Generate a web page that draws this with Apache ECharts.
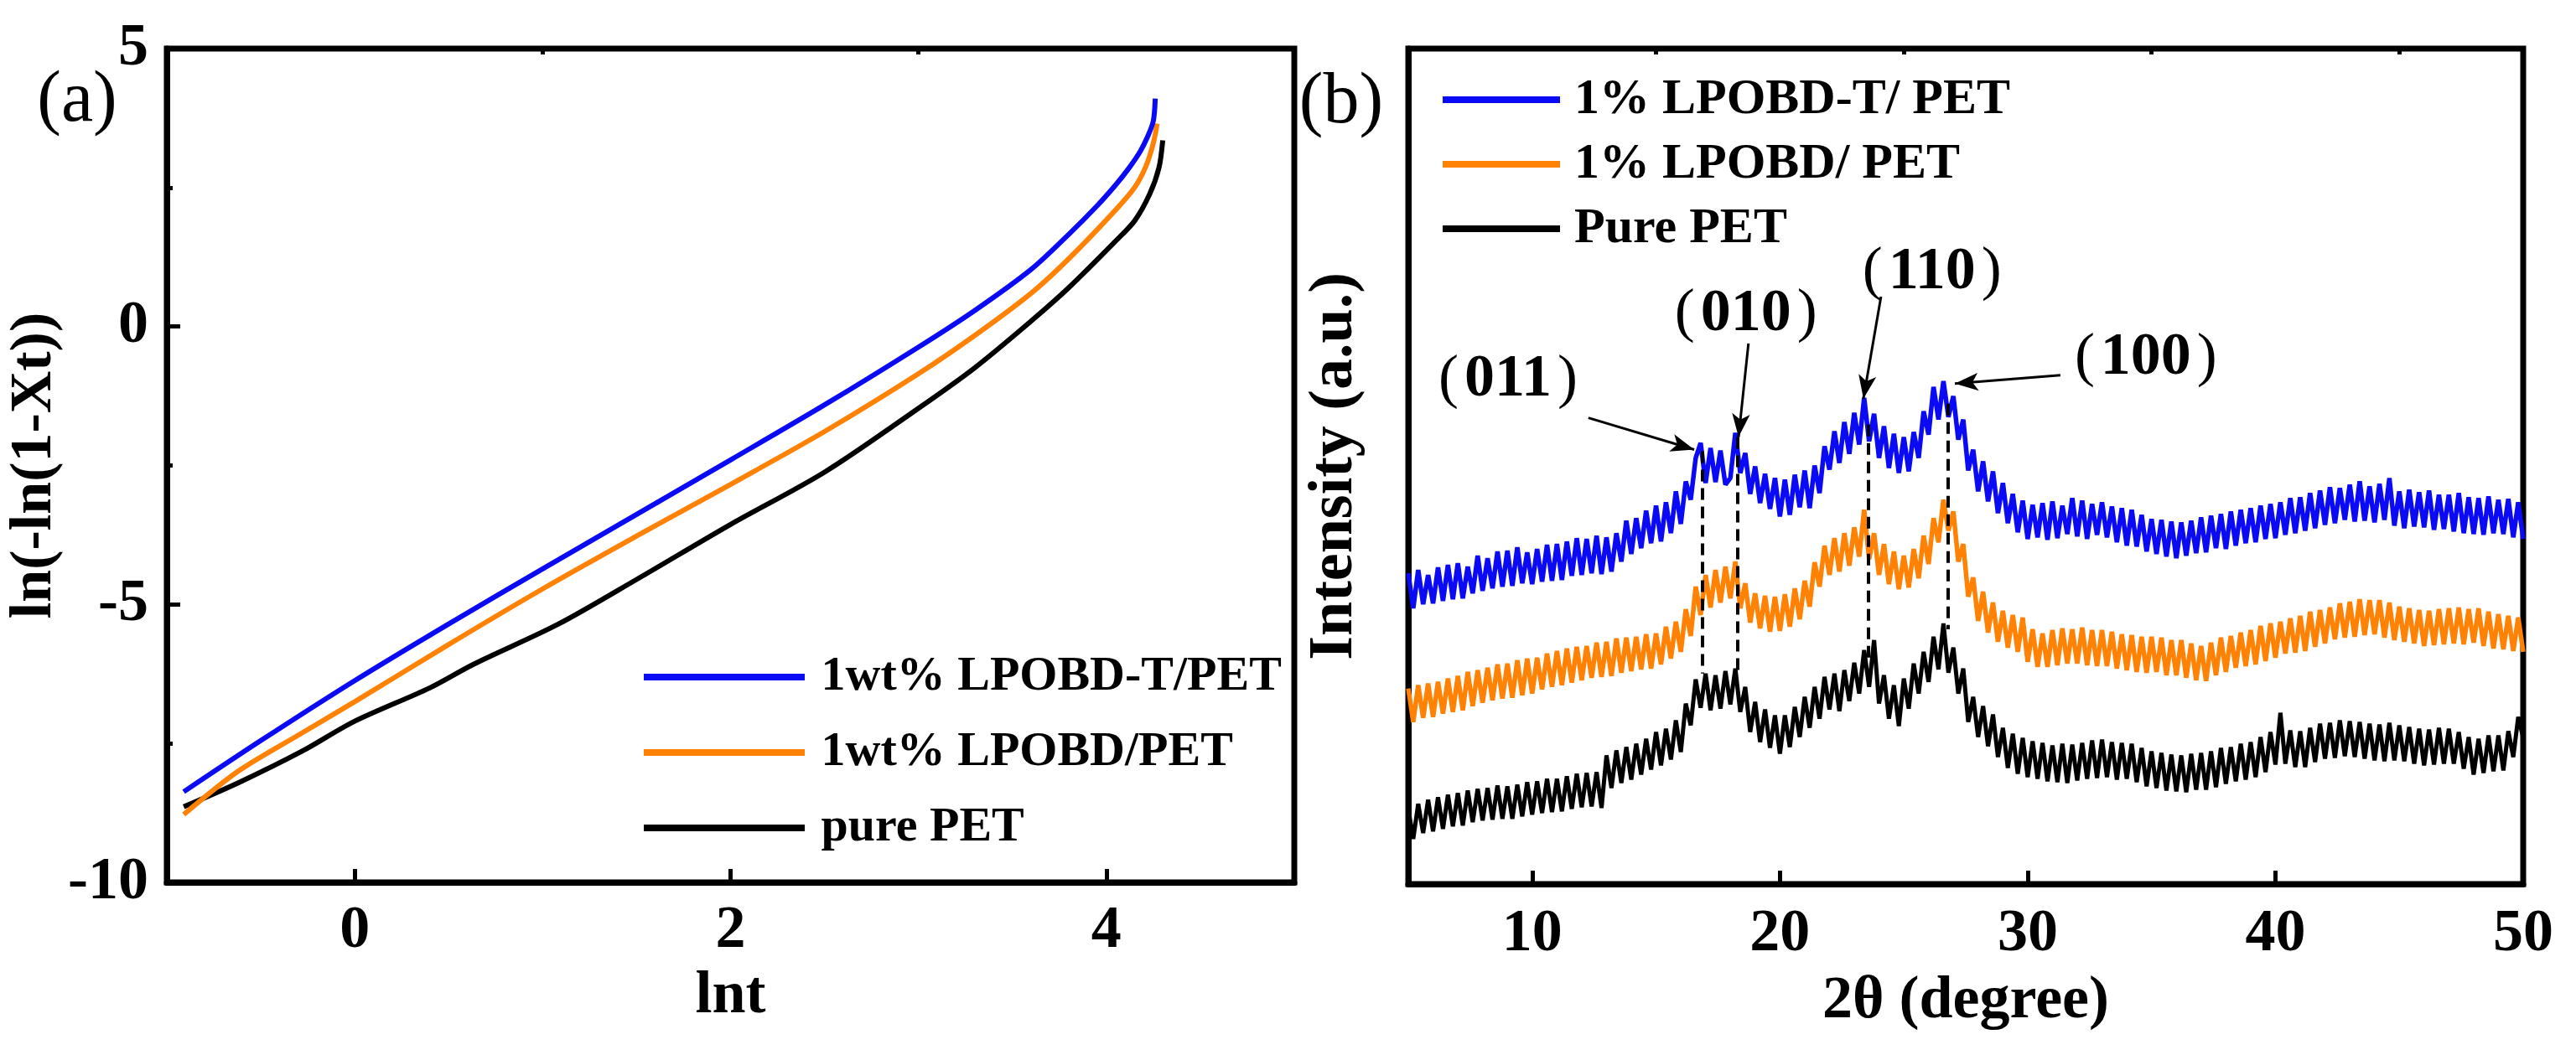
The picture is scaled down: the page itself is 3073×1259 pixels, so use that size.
<!DOCTYPE html>
<html><head><meta charset="utf-8">
<script src="https://cdn.jsdelivr.net/npm/echarts@6/dist/echarts.min.js"></script>
<style>html,body{margin:0;padding:0;background:#fff;}#c{width:3073px;height:1259px;}</style>
</head><body><div id="c"></div>
<script>
const FONT = '"Liberation Serif","Times New Roman",serif';

// ---------- panel (a): Avrami plot ----------
const aNames = ['1wt% LPOBD-T/PET', '1wt% LPOBD/PET', 'pure PET'];
const aBlueLnt = [-0.91,-0.5,0,0.5,1.0,1.5,2.0,2.5,3.0,3.3,3.6,3.8,3.95,4.05,4.12,4.18,4.22,4.25,4.26];
const aBlueY   = [-8.37,-7.45,-6.37,-5.35,-4.36,-3.38,-2.4,-1.41,-0.37,0.29,1.03,1.66,2.17,2.55,2.85,3.15,3.42,3.7,4.1];
const aOrangeLnt = [-0.91,-0.62,-0.3,0,0.5,1.0,1.5,2.0,2.5,3.0,3.3,3.6,3.8,4.05,4.15,4.21,4.25,4.27];
const aOrangeY   = [-8.78,-8.0,-7.35,-6.75,-5.72,-4.72,-3.77,-2.84,-1.89,-0.85,-0.16,0.6,1.22,2.1,2.5,2.88,3.3,3.65];
const aBlackLnt = [-0.91,-0.62,-0.28,0,0.4,0.63,1.08,1.5,2.0,2.5,3.0,3.3,3.6,3.8,4.05,4.15,4.23,4.28,4.3];
const aBlackY   = [-8.64,-8.21,-7.64,-7.1,-6.5,-6.08,-5.36,-4.55,-3.56,-2.62,-1.47,-0.74,0.1,0.7,1.54,1.9,2.38,2.86,3.35];
const aXLabels = [0, 2, 4];
const aXMinor = [1, 3];

// ---------- panel (b): XRD ----------
const bNames = ['1% LPOBD-T/ PET', '1% LPOBD/ PET', 'Pure PET'];
const thetaStart = 5, thetaStep = 0.2;
const xrdBlue = [
37.2,33.0,37.6,33.5,37.0, 33.6,37.9,33.9,38.2,34.1, 38.4,34.2,38.0,34.8,39.3, 35.1,39.0,35.4,39.8,35.6,
39.9,35.7,40.3,36.0,39.7, 35.9,40.1,36.2,40.6,36.3, 40.7,36.4,41.0,36.9,41.4, 37.0,41.3,37.2,41.7,37.1,
41.5,37.4,42.0,38.6,43.5, 39.5,43.8,40.2,44.7,40.8, 45.3,41.0,45.7,42.0,47.0, 43.1,48.2,46.0,51.0,52.8,
48.0,52.2,48.1,51.9,47.8, 48.6,54.0,49.2,51.6,46.7, 50.0,45.6,49.1,44.9,48.6, 44.0,48.4,44.2,49.0,45.1,
49.5,45.0,50.1,46.8,52.4, 49.6,54.2,50.4,55.3,51.5, 56.4,52.6,58.2,53.0,56.3, 51.0,54.8,49.8,53.9,49.2,
53.5,49.4,54.1,51.0,56.6, 53.8,59.5,55.6,60.2,55.9, 58.4,53.2,55.6,49.5,52.0, 47.0,50.6,45.8,49.4,44.4,
48.0,43.2,46.7,42.1,45.9, 41.3,45.4,41.5,45.6,41.2, 45.8,41.4,45.3,41.9,46.2, 41.6,45.9,41.3,45.5,41.8,
45.7,41.5,45.2,40.9,45.0, 40.5,44.8,40.4,44.2,39.8, 43.7,39.5,43.6,39.2,43.4, 39.0,43.3,39.3,43.5,39.6,
43.9,39.7,44.1,40.2,44.3, 40.1,44.6,40.5,44.8,40.8, 45.0,40.9,45.3,41.3,45.5, 41.4,45.7,41.8,46.2,42.0,
46.3,42.3,46.8,42.6,47.1, 43.0,47.5,43.2,47.4,43.6, 47.8,43.4,48.2,43.5,47.6, 43.3,47.9,43.6,48.6,42.9,
47.0,42.6,47.2,42.8,46.9, 42.7,47.1,42.4,46.6,42.5, 46.6,42.2,46.8,42.0,46.3, 41.9,46.2,41.8,46.4,42.0,
46.0,41.9,46.1,41.5,45.7, 41.3];
const xrdOrange = [
23.4,19.4,23.8,19.9,24.0, 20.0,24.2,20.4,24.6,20.6, 24.9,20.8,25.4,21.3,25.6, 21.7,25.9,22.0,26.3,22.2,
26.4,22.3,26.8,22.6,27.0, 22.8,27.1,23.3,27.6,23.6, 27.9,23.8,28.2,24.1,28.4, 24.4,28.5,24.7,28.9,24.8,
29.0,24.9,29.4,25.3,29.5, 25.5,29.6,25.7,29.9,25.8, 30.0,26.3,30.8,27.0,31.4, 27.8,32.9,29.7,35.6,32.2,
37.0,33.1,37.6,33.7,38.0, 34.2,38.6,33.0,36.0,31.3, 34.8,30.6,34.5,30.2,34.4, 30.3,34.7,30.8,35.4,31.7,
36.3,33.2,38.5,35.6,40.5, 37.0,41.4,37.4,42.0,38.1, 42.7,39.2,44.8,38.9,42.0, 37.0,40.7,35.9,39.8,35.3,
39.3,35.5,40.1,36.6,41.7, 38.3,43.8,40.9,46.0,42.3, 44.6,38.6,40.7,34.4,36.7, 31.5,35.0,30.1,33.7,29.0,
32.7,28.3,32.2,27.8,31.9, 26.6,30.5,26.0,30.0,26.0, 30.4,26.2,30.6,26.4,30.5, 26.4,30.7,26.2,30.4,26.1,
30.4,26.1,30.2,25.8,29.9, 25.6,29.8,25.4,29.6,25.3, 29.6,25.4,29.5,25.0,29.2, 25.0,29.2,24.7,28.8,24.4,
28.5,24.3,28.9,25.0,29.5, 25.4,29.7,25.9,30.1,26.1, 30.4,26.3,30.9,26.7,31.2, 27.1,31.4,27.6,31.8,27.7,
32.1,27.9,32.6,28.4,32.8, 28.8,33.1,29.3,33.6,29.5, 33.8,29.6,34.1,29.8,34.0, 29.9,34.0,29.5,33.7,29.2,
33.2,29.0,33.0,28.8,32.8, 28.5,32.7,28.6,32.9,28.7, 33.0,28.8,33.1,28.7,32.9, 28.9,33.0,28.5,32.6,28.2,
32.3,28.1,32.1,27.9,31.9, 27.8];
const xrdBlack = [
9.0,5.4,9.6,6.1,10.1, 6.3,10.4,6.6,10.7,6.9, 10.9,7.0,11.2,7.4,11.4, 7.6,11.5,7.7,11.8,7.8,
11.7,7.8,11.9,8.1,12.2, 8.3,12.3,8.5,12.6,8.6, 12.6,8.7,12.9,9.0,13.2, 9.2,13.3,9.3,13.4,9.1,
15.4,11.5,16.0,12.1,16.4, 12.5,16.8,13.1,17.4,13.7, 18.2,14.2,18.6,14.9,19.6, 15.8,21.6,19.0,24.5,21.1,
25.2,20.8,25.0,21.0,25.5, 21.5,25.8,20.6,23.6,18.2, 21.8,17.0,20.9,16.3,20.2, 15.6,20.2,16.4,21.2,17.6,
22.4,18.7,23.6,19.8,24.8, 20.9,25.2,20.7,25.6,21.9, 26.5,22.8,28.0,23.6,29.2, 21.6,25.0,19.8,23.8,18.9,
24.6,21.0,26.4,22.8,27.8, 24.2,29.6,25.7,31.2,25.3, 28.3,22.8,25.8,19.4,22.4, 17.6,21.3,16.5,20.3,15.2,
18.7,13.9,18.0,13.2,17.5, 12.8,17.1,12.6,16.9,12.3, 16.6,12.2,16.8,12.1,16.7, 12.4,16.9,12.6,17.2,12.7,
17.3,12.8,17.0,12.5,16.9, 12.6,16.8,12.2,16.3,11.7, 15.9,11.5,15.7,11.2,15.5, 11.1,15.4,11.0,15.6,11.3,
15.7,11.3,15.9,11.6,16.3, 12.0,16.4,12.3,16.8,12.5, 17.0,12.8,17.6,13.4,18.2, 14.3,20.5,14.4,18.4,14.0,
18.3,14.0,18.7,14.6,19.2, 15.0,19.3,15.1,19.6,15.3, 19.5,15.2,19.4,15.0,19.2, 14.8,19.1,14.7,19.3,14.8,
19.0,14.7,18.8,14.4,18.6, 14.2,18.5,14.3,18.7,14.4, 18.6,14.4,18.2,13.8,17.6, 13.1,17.4,13.3,17.8,13.5,
17.8,13.6,18.3,15.2,20.0, 17.5];
const bXLabels = [10, 20, 30, 40, 50];
const bXMinor = [15, 25, 35, 45];

// peak annotations (b)
const peakNames = ['011', '010', '110', '100'];
const peakLabelX = [9.03, 18.63, 26.14, 34.77];
const peakLabelY = [60.3, 68.2, 73.2, 62.9];
const arrowFromX = [12.27, 18.73, 24.08, 31.32];
const arrowFromY = [55.8, 64.7, 70.3, 60.9];
const arrowToX   = [16.54, 18.33, 23.37, 27.06];
const arrowToY   = [52.0, 53.5, 58.1, 59.9];
const peakLineX   = [16.86, 18.29, 23.57, 26.79];
const peakLineTop = [51.8, 53.5, 55.0, 57.5];
const peakLineBot = [25.2, 25.0, 27.0, 30.5];

const COLORS = ['#0a0af5', '#ff8205', '#000000'];

function pairs(xs, ys) { return xs.map((x, i) => [x, ys[i]]); }
function scan(vals) { return vals.map((v, i) => [+(thetaStart + i * thetaStep).toFixed(2), v]); }

const txt = { color: '#000', fontFamily: FONT, fontWeight: 'bold' };

const markData = [];
arrowFromX.forEach((x, i) => {
  markData.push([{ coord: [x, arrowFromY[i]], symbol: 'none' }, { coord: [arrowToX[i], arrowToY[i]], symbol: 'arrow' }]);
});
peakLineX.forEach((x, i) => {
  markData.push([{ coord: [x, peakLineTop[i]], symbol: 'none', lineStyle: { type: [14, 8], width: 4 } },
                 { coord: [x, peakLineBot[i]], symbol: 'none' }]);
});

const chart = echarts.init(document.getElementById('c'), null, { renderer: 'canvas' });
chart.setOption({
  animation: false,
  backgroundColor: '#fff',
  grid: [
    { left: 199, top: 58, width: 1345, height: 995, show: true, borderColor: '#000', borderWidth: 7, backgroundColor: 'transparent' },
    { left: 1680, top: 58, width: 1330, height: 997, show: true, borderColor: '#000', borderWidth: 7, backgroundColor: 'transparent' }
  ],
  xAxis: [
    { type: 'value', gridIndex: 0, min: -1, max: 5,
      axisLine: { onZero: false, lineStyle: { color: '#000', width: 7 } },
      axisTick: { inside: true, length: 16, customValues: aXLabels, lineStyle: { color: '#000', width: 5 } },
      axisLabel: Object.assign({ customValues: aXLabels, margin: 22, fontSize: 72 }, txt),
      splitLine: { show: false },
      name: 'lnt', nameLocation: 'middle', nameGap: 100, nameTextStyle: Object.assign({ fontSize: 72 }, txt) },
    { type: 'value', gridIndex: 0, min: -1, max: 5,
      axisLine: { show: false, onZero: false },
      axisTick: { inside: true, length: 7, customValues: aXMinor, lineStyle: { color: '#000', width: 5 } },
      axisLabel: { show: false }, splitLine: { show: false } },
    { type: 'value', gridIndex: 1, min: 5, max: 50,
      axisLine: { onZero: false, lineStyle: { color: '#000', width: 7 } },
      axisTick: { inside: true, length: 16, customValues: bXLabels, lineStyle: { color: '#000', width: 5 } },
      axisLabel: Object.assign({ customValues: bXLabels, margin: 24, fontSize: 72 }, txt),
      splitLine: { show: false },
      name: '2θ (degree)', nameLocation: 'middle', nameGap: 104, nameTextStyle: Object.assign({ fontSize: 72 }, txt) },
    { type: 'value', gridIndex: 1, min: 5, max: 50,
      axisLine: { show: false, onZero: false },
      axisTick: { inside: true, length: 7, customValues: bXMinor, lineStyle: { color: '#000', width: 5 } },
      axisLabel: { show: false }, splitLine: { show: false } }
  ],
  yAxis: [
    { type: 'value', gridIndex: 0, min: -10, max: 5, interval: 5,
      axisLine: { onZero: false, lineStyle: { color: '#000', width: 7 } },
      axisTick: { inside: true, length: 16, lineStyle: { color: '#000', width: 5 } },
      minorTick: { show: true, splitNumber: 2, length: 7, lineStyle: { color: '#000', width: 5 } },
      axisLabel: Object.assign({ margin: 22, fontSize: 72 }, txt),
      splitLine: { show: false },
      name: 'ln(-ln(1-Xt))', nameLocation: 'middle', nameGap: 96, nameTextStyle: Object.assign({ fontSize: 70 }, txt) },
    { type: 'value', gridIndex: 1, min: 0, max: 100,
      axisLine: { onZero: false, lineStyle: { color: '#000', width: 7 } },
      axisTick: { show: false }, axisLabel: { show: false }, splitLine: { show: false },
      name: 'Intensity (a.u.)', nameLocation: 'middle', nameGap: 50, nameTextStyle: Object.assign({ fontSize: 74 }, txt) }
  ],
  legend: [
    { data: aNames, orient: 'vertical', left: 763, top: 773, itemWidth: 192, itemHeight: 8, itemGap: 30, icon: 'rect',
      formatter: n => ' ' + n, selectedMode: false,
      textStyle: Object.assign({ fontSize: 58, lineHeight: 60 }, txt) },
    { data: bNames, orient: 'vertical', left: 1716, top: 84, itemWidth: 140, itemHeight: 8, itemGap: 17, icon: 'rect',
      formatter: n => '\u2009' + n, selectedMode: false,
      textStyle: Object.assign({ fontSize: 60, lineHeight: 60 }, txt) }
  ],
  graphic: [
    { type: 'text', x: 92, y: 121, style: { text: '(a)', fontSize: 86, fontFamily: FONT, fill: '#000', align: 'center', verticalAlign: 'middle' } },
    { type: 'text', x: 1600, y: 123, style: { text: '(b)', fontSize: 86, fontFamily: FONT, fill: '#000', align: 'center', verticalAlign: 'middle' } }
  ],
  series: [
    { name: aNames[2], type: 'line', xAxisIndex: 0, yAxisIndex: 0, data: pairs(aBlackLnt, aBlackY), showSymbol: false, symbol: 'none', smooth: 0.3,
      color: COLORS[2], lineStyle: { width: 6, color: COLORS[2] } },
    { name: aNames[1], type: 'line', xAxisIndex: 0, yAxisIndex: 0, data: pairs(aOrangeLnt, aOrangeY), showSymbol: false, symbol: 'none', smooth: 0.3,
      color: COLORS[1], lineStyle: { width: 6, color: COLORS[1] } },
    { name: aNames[0], type: 'line', xAxisIndex: 0, yAxisIndex: 0, data: pairs(aBlueLnt, aBlueY), showSymbol: false, symbol: 'none', smooth: 0.3,
      color: COLORS[0], lineStyle: { width: 6, color: COLORS[0] } },
    { name: bNames[0], type: 'line', xAxisIndex: 2, yAxisIndex: 1, data: scan(xrdBlue), showSymbol: false, symbol: 'none',
      color: COLORS[0], lineStyle: { width: 5.5, color: COLORS[0] } },
    { name: bNames[1], type: 'line', xAxisIndex: 2, yAxisIndex: 1, data: scan(xrdOrange), showSymbol: false, symbol: 'none',
      color: COLORS[1], lineStyle: { width: 5.5, color: COLORS[1] } },
    { name: bNames[2], type: 'line', xAxisIndex: 2, yAxisIndex: 1, data: scan(xrdBlack), showSymbol: false, symbol: 'none',
      color: COLORS[2], lineStyle: { width: 5, color: COLORS[2] },
      markLine: { silent: true, animation: false, symbolSize: [16, 28], label: { show: false },
        lineStyle: { color: '#000', width: 3, type: 'solid' }, emphasis: { disabled: true }, data: markData } },
    { name: 'peaks', type: 'scatter', xAxisIndex: 2, yAxisIndex: 1, symbolSize: 0, silent: true,
      itemStyle: { opacity: 1, color: '#000' },
      data: peakNames.map((n, i) => [peakLabelX[i], peakLabelY[i], n]),
      label: { show: true, position: 'inside', color: '#000', textBorderWidth: 0,
        formatter: p => '{p|(}{d|' + p.data[2] + '}{p|)}',
        rich: {
          p: { fontSize: 72, fontFamily: FONT, color: '#000', textBorderWidth: 0, padding: [0, 7, 0, 7] },
          d: { fontSize: 72, fontFamily: FONT, fontWeight: 'bold', color: '#000', textBorderWidth: 0 }
        } } }
  ]
});
</script></body></html>
